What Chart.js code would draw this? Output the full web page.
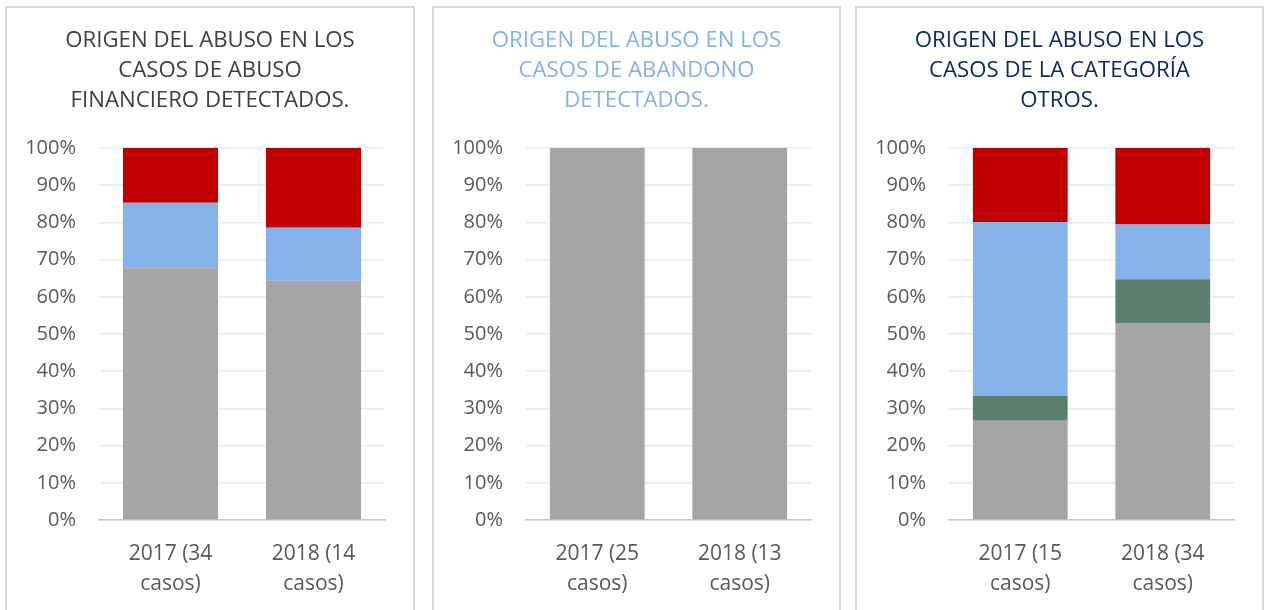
<!DOCTYPE html>
<html>
<head>
<meta charset="utf-8">
<script src="https://cdn.jsdelivr.net/npm/chart.js@4/dist/chart.umd.min.js"></script>
<style>
  html, body { margin: 0; padding: 0; background: #ffffff; width: 1264px; height: 610px; overflow: hidden; }
  .panel { position: absolute; top: 6px; height: 640px; box-sizing: border-box; border: 2px solid #D9D9D9; background: #fff; }
  .panel .wrap { position: absolute; left: 0; top: 0; height: 602px; }
</style>
</head>
<body>
<div class="panel" id="p1" style="left:5px; width:410px;"><div class="wrap" style="width:406px;"><canvas id="c1"></canvas></div></div>
<div class="panel" id="p2" style="left:432px; width:409px;"><div class="wrap" style="width:405px;"><canvas id="c2"></canvas></div></div>
<div class="panel" id="p3" style="left:855px; width:409px;"><div class="wrap" style="width:405px;"><canvas id="c3"></canvas></div></div>
<script>
// ---- data (percent of cases) ----
const yTickValues = [0, 10, 20, 30, 40, 50, 60, 70, 80, 90, 100];

const titleFinanciero = ["ORIGEN DEL ABUSO EN LOS", "CASOS DE ABUSO", "FINANCIERO DETECTADOS."];
const catsFinanciero = [["2017 (34", "casos)"], ["2018 (14", "casos)"]];
const finGris = [67.65, 64.29];
const finAzul = [17.65, 14.29];
const finRojo = [14.71, 21.43];

const titleAbandono = ["ORIGEN DEL ABUSO EN LOS", "CASOS DE ABANDONO", "DETECTADOS."];
const catsAbandono = [["2017 (25", "casos)"], ["2018 (13", "casos)"]];
const abaGris = [100, 100];

const titleOtros = ["ORIGEN DEL ABUSO EN LOS", "CASOS DE LA CATEGORÍA", "OTROS."];
const catsOtros = [["2017 (15", "casos)"], ["2018 (34", "casos)"]];
const otrGris = [26.67, 52.94];
const otrVerde = [6.67, 11.76];
const otrAzul = [46.67, 14.71];
const otrRojo = [20.00, 20.59];

// ---- styles ----
const GRIS = '#A5A5A5', AZUL = '#86B2EA', ROJO = '#C00000', VERDE = '#5B7F6F';
const FONT = "'Open Sans', 'DejaVu Sans', sans-serif";

function ds(label, data, color) {
  return { label, data, backgroundColor: color, borderWidth: 0,
           barPercentage: 0.665, categoryPercentage: 1.0 };
}

function makeChart(id, title, titleColor, cats, datasets) {
  new Chart(document.getElementById(id), {
    type: 'bar',
    data: { labels: cats, datasets },
    options: {
      responsive: true,
      maintainAspectRatio: false,
      animation: false,
      layout: { padding: 0 },
      plugins: {
        legend: { display: false },
        tooltip: { enabled: false },
        title: {
          display: true,
          text: title,
          color: titleColor,
          font: { family: FONT, size: 22.2, weight: 'normal', lineHeight: '30px' },
          padding: { top: 17.5, bottom: 32.5 }
        }
      },
      scales: {
        x: {
          stacked: true,
          grid: { display: false, drawTicks: false },
          border: { display: true, color: '#C6C6C6', width: 1.5 },
          ticks: { color: '#595959', font: { family: FONT, size: 21, lineHeight: '30px' }, padding: 19, maxRotation: 0, autoSkip: false },
          afterFit: (s) => { s.height = 90; }
        },
        y: {
          stacked: true,
          min: 0, max: 100,
          afterBuildTicks: (s) => { s.ticks = yTickValues.map(v => ({ value: v })); },
          grid: { color: '#EBEBEB', lineWidth: 1.5, drawTicks: false },
          border: { display: false },
          ticks: { color: '#595959', font: { family: FONT, size: 20 }, padding: 23,
                   callback: (v) => v + '%' },
          afterFit: (s) => { s.width = 92; }
        },
        margenDerecho: {
          type: 'linear',
          position: 'right',
          display: true,
          min: 0, max: 100,
          grid: { display: false, drawTicks: false },
          border: { display: false },
          ticks: { display: false },
          afterFit: (s) => { s.width = 28; }
        }
      }
    }
  });
}

makeChart('c1', titleFinanciero, '#404040', catsFinanciero, [
  ds('Gris', finGris, GRIS), ds('Azul', finAzul, AZUL), ds('Rojo', finRojo, ROJO)
]);
makeChart('c2', titleAbandono, '#86B2EA', catsAbandono, [
  ds('Gris', abaGris, GRIS)
]);
makeChart('c3', titleOtros, '#0D2A63', catsOtros, [
  ds('Gris', otrGris, GRIS), ds('Verde', otrVerde, VERDE), ds('Azul', otrAzul, AZUL), ds('Rojo', otrRojo, ROJO)
]);
</script>
</body>
</html>
